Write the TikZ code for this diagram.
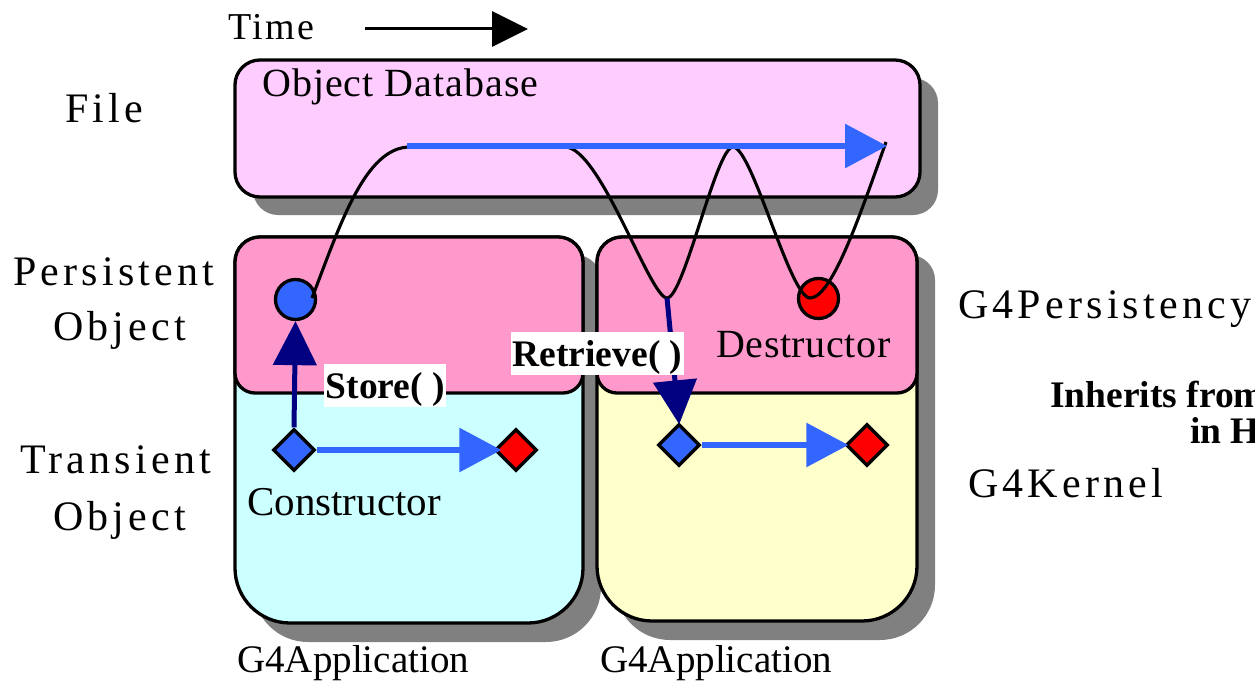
\documentclass[tikz,border=0pt]{standalone}
\usepackage{fontspec}
\setmainfont{Liberation Serif}
\newfontfamily\spacedfont[LetterSpace=10]{Liberation Serif}
\newfontfamily\timefont[LetterSpace=6]{Liberation Serif}
\newfontfamily\smallspfont[LetterSpace=1.5]{Liberation Serif}
\newfontfamily\dbfont[LetterSpace=2.5]{Liberation Serif}
\usetikzlibrary{arrows.meta,shapes.geometric}
\definecolor{filepink}{HTML}{FFCCFF}
\definecolor{perspink}{HTML}{FF99CC}
\definecolor{transcyan}{HTML}{CCFFFF}
\definecolor{kernyellow}{HTML}{FFFFCC}
\definecolor{myblue}{HTML}{3366FF}
\definecolor{mynavy}{HTML}{000080}
\definecolor{shadowgray}{HTML}{808080}
% rounded box: x0 y0 x1 y1 top-radius bottom-radius (y grows downward)
\newcommand\rbox[6]{(#1,{#2+#5}) .. controls (#1,{#2+0.448*#5}) and ({#1+0.448*#5},#2) .. ({#1+#5},#2) -- ({#3-#5},#2) .. controls ({#3-0.448*#5},#2) and (#3,{#2+0.448*#5}) .. (#3,{#2+#5}) -- (#3,{#4-#6}) .. controls (#3,{#4-0.448*#6}) and ({#3-0.448*#6},#4) .. ({#3-#6},#4) -- ({#1+#6},#4) .. controls ({#1+0.448*#6},#4) and (#1,{#4-0.448*#6}) .. (#1,{#4-#6}) -- cycle}
\tikzset{
  boxline/.style={draw=black, line width=3.3pt},
  shadowfill/.style={fill=shadowgray},
  labeltext/.style={inner sep=0pt, anchor=base west, font=\fontsize{42}{50}\spacedfont},
  midtext/.style={inner sep=0pt, anchor=base west},
  boldlabel/.style={inner xsep=1.5pt, inner ysep=3pt, anchor=base west, text height=31pt, text depth=6pt, font=\fontsize{37.5}{44}\selectfont\bfseries},
  gem/.style={diamond, draw=black, line width=3.3pt, minimum width=42pt, minimum height=42pt, inner sep=0pt},
  ball/.style={circle, draw=black, line width=3.3pt, minimum size=40pt, inner sep=0pt},
  bluearrow/.style={draw=myblue, line width=6pt, -{Triangle[length=42pt,width=43pt]}},
  navyarrow/.style={draw=mynavy, line width=5pt, -{Triangle[length=44pt,width=43pt]}},
  lifeline/.style={draw=black, line width=3.1pt},
}
\begin{document}
\begin{tikzpicture}[x=1pt,y=-1pt]
\useasboundingbox (0,0) rectangle (1255,682);
% shadows
\fill[shadowfill] \rbox{253}{78}{938}{215}{25}{25};
\fill[shadowfill] \rbox{253}{255}{601}{642}{25}{55};
\fill[shadowfill] \rbox{615}{255}{935}{640}{25}{55};
% boxes
\path[boxline, fill=filepink] \rbox{235}{60}{920}{197}{25}{25};
\path[boxline, fill=transcyan] \rbox{235}{237}{583}{623}{25}{55};
\path[boxline, fill=perspink] \rbox{235}{237}{583}{393}{25}{20};
\path[boxline, fill=kernyellow] \rbox{597}{237}{917}{621}{25}{55};
\path[boxline, fill=perspink] \rbox{597}{237}{917}{393}{25}{20};

% time arrow
\node[midtext, font=\fontsize{38}{44}\timefont] (time) at (228,40) {Time};
\coordinate (timestart) at (365,29);
\coordinate (timeend) at (528,29);
\draw[line width=3pt, -{Triangle[length=36pt,width=35pt]}] (timestart) -- (timeend);

% texts
\node[midtext, font=\fontsize{40}{46}\dbfont] (odb) at (262,97) {Object Database};
\node[labeltext] (file) at (65,123) {File};
\node[labeltext] (pers) at (13,285) {Persistent};
\node[labeltext] (persobj) at (53,340) {Object};
\node[labeltext] (trans) at (20,473) {Transient};
\node[labeltext] (transobj) at (53,530) {Object};
\node[labeltext] (g4pers) at (958,318) {G4Persistency};
\node[labeltext] (g4kern) at (968,497) {G4Kernel};
\node[midtext, font=\fontsize{37.5}{44}\selectfont\bfseries] (inh1) at (1050,407) {Inherits from};
\node[midtext, font=\fontsize{37.5}{44}\selectfont\bfseries] (inh2) at (1190,443) {in H};
\node[midtext, font=\fontsize{41}{48}\selectfont] (cons) at (247,515) {Constructor};
\node[midtext, font=\fontsize{40}{46}\smallspfont] (dest) at (716,357) {Destructor};
\node[midtext, font=\fontsize{39}{46}\selectfont] (app1) at (237,672) {G4Application};
\node[midtext, font=\fontsize{39}{46}\selectfont] (app2) at (600,672) {G4Application};

% objects
\node[ball, fill=myblue] (bcirc) at (295.5,299.5) {};
\node[ball, fill=red] (rcirc) at (818.5,298.5) {};
\node[gem, fill=myblue] (bd1) at (294,450) {};
\node[gem, fill=red] (rd1) at (516,450) {};
\node[gem, fill=myblue] (bd2) at (679,445) {};
\node[gem, fill=red] (rd2) at (867,445) {};

% life line curve
\coordinate (cstart) at (312,298);
\coordinate (trough) at (667,298);
\coordinate (dbstart) at (407,146);
\coordinate (dbend) at (887,146);
\draw[lifeline] (cstart) .. controls (340,225) and (365,147) .. (410,147)
  -- (565,147) .. controls (600,147) and (650,298) .. (trough)
  .. controls (684,298) and (716,147) .. (733,147)
  .. controls (752,147) and (790,298) .. (810,298)
  .. controls (832,298) and (860,215) .. (886,142);

% arrows
\draw[bluearrow] (dbstart) -- (dbend);
\draw[bluearrow, shorten >=-8pt] (bd1.east) -- (rd1.west);
\draw[bluearrow, shorten >=-4pt] (bd2.east) -- (rd2.west);
\draw[navyarrow] (bd1.north) -- (bcirc.south);
\draw[navyarrow, shorten >=-2pt] (trough) -- (bd2.north);

% method labels
\node[boldlabel, fill=white] (store) at (324,398) {Store( )};
\node[boldlabel, fill=white] (retr) at (511,366) {Retrieve( )};
\end{tikzpicture}
\end{document}
